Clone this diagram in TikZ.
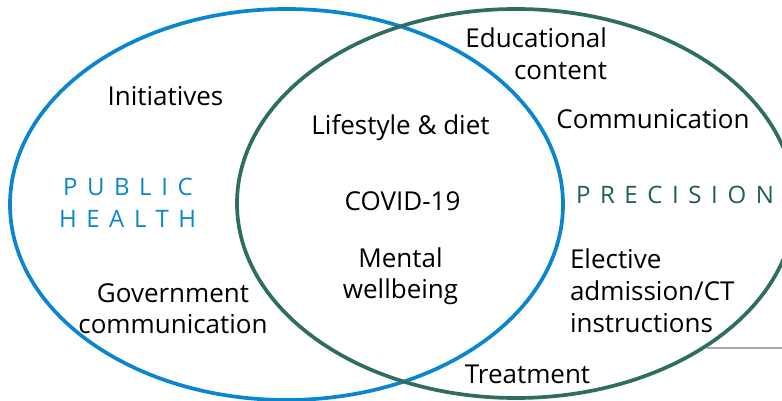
\documentclass[tikz,border=0pt]{standalone}
\usepackage{fontspec}
\setmainfont{Open Sans}
\definecolor{phblue}{HTML}{0A86D0}
\definecolor{prgreen}{HTML}{2D6E60}
\definecolor{prtext}{HTML}{1E5E58}
\definecolor{txt}{HTML}{000000}
\definecolor{connGray}{HTML}{AAAAAA}
\begin{document}
\begin{tikzpicture}[x=1pt,y=-1pt,
  lbl/.style={inner sep=0pt,outer sep=0pt,text=txt,font=\fontsize{26}{31}\selectfont},
  biglabel/.style={inner sep=0pt,outer sep=0pt,font=\fontsize{24}{30}\selectfont\addfontfeature{LetterSpace=40}},
  ring/.style={line width=3.7pt}]
\useasboundingbox (0,0) rectangle (782,401);
\clip (0,0) rectangle (782,401);
\fill[white] (0,0) rectangle (782,401);
% ellipses
\draw[ring,phblue] (286.5,204.5) ellipse [x radius=276.5pt, y radius=195.5pt];
\draw[ring,prgreen] (516,203.5) ellipse [x radius=279pt, y radius=194.5pt];
% connector remnant
\coordinate (g1) at (707,348);
\coordinate (g2) at (782,348);
\draw[connGray,line width=2pt] (g1) -- (g2);
% public health side
\node[lbl,anchor=base] (init) at (165.5,106) {Initiatives};
\node[biglabel,text=phblue,anchor=base west] (pub) at (63,195) {PUBLIC};
\node[biglabel,text=phblue,anchor=base west] (hea) at (59,227) {HEALTH};
\node[lbl,anchor=base] (gov1) at (173,302) {Government};
\node[lbl,anchor=base] (gov2) at (173,333) {communication};
% overlap
\node[lbl,anchor=base] (life) at (400.5,135) {Lifestyle \& diet};
\node[lbl,anchor=base] (covid) at (402.5,210) {COVID-19};
\node[lbl,anchor=base] (ment1) at (400.5,267) {Mental};
\node[lbl,anchor=base] (ment2) at (400.5,298) {wellbeing};
% precision side
\node[lbl,anchor=base east] (edu1) at (607,48) {Educational};
\node[lbl,anchor=base east] (edu2) at (607,80) {content};
\node[lbl,anchor=base] (comm) at (653,129) {Communication};
\node[biglabel,text=prtext,anchor=base west] (prec) at (576,203) {PRECISION};
\node[lbl,anchor=base west] (el1) at (570,268) {Elective};
\node[lbl,anchor=base west] (el2) at (570,300) {admission/CT};
\node[lbl,anchor=base west] (el3) at (570,332) {instructions};
\node[lbl,anchor=base] (treat) at (527.5,383) {Treatment};
\end{tikzpicture}
\end{document}
